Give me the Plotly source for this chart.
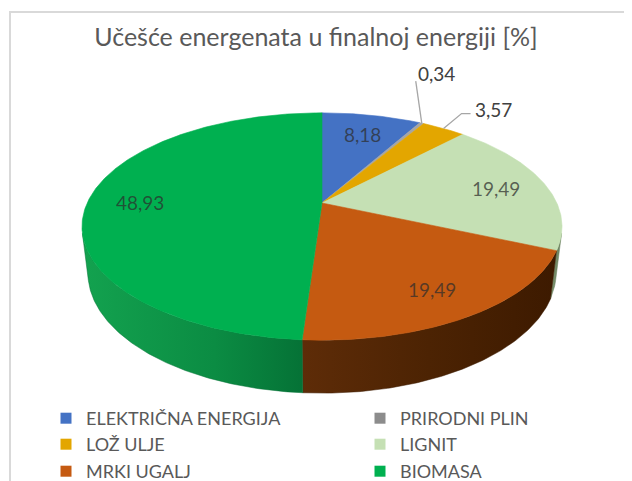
import numpy as np
import plotly.graph_objects as go

# ---- data ----
categories = ["ELEKTRIČNA ENERGIJA", "PRIRODNI PLIN", "LOŽ ULJE", "LIGNIT", "MRKI UGALJ", "BIOMASA"]
values = [8.18, 0.34, 3.57, 19.49, 19.49, 48.93]
title_text = "Učešće energenata u finalnoj energiji [%]"

# ---- style ----
top_colors = ["#4472C4", "#A5A5A5", "#E3A600", "#C5E0B4", "#C55A11", "#00B050"]
legend_colors = ["#4472C4", "#8C8C8C", "#E3A600", "#C5E0B4", "#C55A11", "#00B050"]
side_scales = [
    [[0, "#2f4f8a"], [1, "#253f70"]],
    [[0, "#707070"], [1, "#606060"]],
    [[0, "#9c7300"], [1, "#8a6500"]],
    [[0, "#7d9470"], [1, "#6a805e"]],
    [[0, "#5e2c08"], [0.5, "#4c2303"], [1, "#3d1a00"]],
    [[0, "#13a24f"], [0.6, "#0b8c43"], [1, "#057236"]],
]
PAGE_W, PAGE_H = 632, 481
OFF = 8  # page body margin
FIG_W, FIG_H = PAGE_W - OFF, PAGE_H - OFF
FONT = "Lato"
LEG_COL_X = [46, 360]          # page px, legend box left for each column
LEG_ROW_TOP = [400, 426, 453]  # page px, legend box top for each row


def py2paper(py):
    return 1 - (py - OFF) / FIG_H


def px2paper(px):
    return (px - OFF) / FIG_W


# 3D projection (page pixel space)
ALPHA = np.radians(27.6)
D = 4.28
F = 1005.0
CX, CY = 322.0, 203.0
THICK = 0.224


def proj(phi_deg, r=1.0, yw=0.0):
    phi = np.radians(phi_deg)
    X = r * np.sin(phi)
    Z = r * np.cos(phi)
    yc = yw * np.cos(ALPHA) + Z * np.sin(ALPHA)
    zc = -yw * np.sin(ALPHA) + Z * np.cos(ALPHA)
    k = F / (D + zc)
    return CX + k * X, CY - k * yc


total = sum(values)
bounds = np.concatenate([[0], np.cumsum(values)]) / total * 360.0
vis_lo = np.degrees(np.arccos(-1.0 / (D * np.cos(ALPHA))))
vis_hi = 360.0 - vis_lo

fig = go.Figure()

# sides
for i, v in enumerate(values):
    a0, a1 = max(bounds[i], vis_lo), min(bounds[i + 1], vis_hi)
    if a1 <= a0:
        continue
    ang = np.linspace(a0, a1, 120)
    tx, ty = proj(ang)
    bx, by = proj(ang[::-1], yw=-THICK)
    xs = np.concatenate([tx, bx, tx[:1]])
    ys = np.concatenate([ty, by, ty[:1]])
    fig.add_trace(go.Scatter(
        x=xs, y=ys, mode="lines", fill="toself",
        line=dict(width=0.5, color=side_scales[i][-1][1]),
        fillgradient=dict(type="horizontal", colorscale=side_scales[i]),
        hoverinfo="skip", showlegend=False))

# top faces
for i, v in enumerate(values):
    ang = np.linspace(bounds[i], bounds[i + 1], max(4, int(v * 6)))
    ax_, ay_ = proj(ang)
    xs = np.concatenate([[CX], ax_, [CX]])
    ys = np.concatenate([[CY], ay_, [CY]])
    fig.add_trace(go.Scatter(
        x=xs, y=ys, mode="lines", fill="toself",
        fillcolor=top_colors[i], line=dict(width=0.6, color=top_colors[i]),
        hoverinfo="skip", showlegend=False))

# data labels
annotations = []
for i, v in enumerate(values):
    txt = f"{v:.2f}".replace(".", ",")
    mid = (bounds[i] + bounds[i + 1]) / 2
    if v >= 5:
        lx, ly = proj(mid, r=0.78)
        annotations.append(dict(x=lx, y=ly + 2, text=txt, showarrow=False,
                                font=dict(family=FONT, size=19, color="rgba(45,45,45,0.72)"),
                                xanchor="center", yanchor="middle"))
    else:
        px, py = proj(mid, r=1.0)
        if v < 1:
            qx, qy = px - 6, py - 42
            fig.add_trace(go.Scatter(x=[px, qx], y=[py, qy], mode="lines",
                                     line=dict(color="#A6A6A6", width=1.3),
                                     hoverinfo="skip", showlegend=False))
            annotations.append(dict(x=qx, y=qy - 8, text=txt, showarrow=False,
                                    font=dict(family=FONT, size=19, color="#404040"),
                                    xanchor="left", yanchor="middle"))
        else:
            ex, ey = px + 18, py - 15
            tx_, ty_ = ex + 9, ey
            fig.add_trace(go.Scatter(x=[px, ex, tx_], y=[py, ey, ty_], mode="lines",
                                     line=dict(color="#A6A6A6", width=1.3),
                                     hoverinfo="skip", showlegend=False))
            annotations.append(dict(x=tx_ + 2, y=ty_ - 4, text=txt, showarrow=False,
                                    font=dict(family=FONT, size=19, color="#404040"),
                                    xanchor="left", yanchor="middle"))

# legend entries: one legend box per entry, laid out in a 2-column grid
legend_layouts = {}
for i, c in enumerate(categories):
    key = "legend" if i == 0 else f"legend{i + 1}"
    fig.add_trace(go.Scatter(x=[None], y=[None], mode="markers", name=c,
                             marker=dict(symbol="square", size=11, color=legend_colors[i]),
                             legend=key, hoverinfo="skip"))
    legend_layouts[key] = dict(
        orientation="v", x=px2paper(LEG_COL_X[i % 2]), xanchor="left",
        y=py2paper(LEG_ROW_TOP[i // 2]), yanchor="top",
        font=dict(family=FONT, size=18, color="#595959"),
        itemclick=False, itemdoubleclick=False, bgcolor="rgba(0,0,0,0)")

fig.update_layout(
    width=FIG_W, height=FIG_H,
    margin=dict(l=0, r=0, t=0, b=0, autoexpand=False),
    paper_bgcolor="white", plot_bgcolor="white",
    title=dict(text=title_text, x=0.5 - OFF / 2 / FIG_W, xanchor="center",
               y=py2paper(37), yanchor="middle",
               font=dict(family=FONT, size=25, color="#595959")),
    xaxis=dict(range=[OFF, PAGE_W], visible=False, fixedrange=True),
    yaxis=dict(range=[PAGE_H, OFF], visible=False, fixedrange=True),
    showlegend=True,
    annotations=annotations,
    shapes=[dict(type="rect", xref="x", yref="y", x0=10, y0=12, x1=PAGE_W + 20, y1=PAGE_H + 20,
                 line=dict(color="#D9D9D9", width=2), fillcolor="rgba(0,0,0,0)", layer="below")],
    **legend_layouts,
)

fig.write_html("out.html")
